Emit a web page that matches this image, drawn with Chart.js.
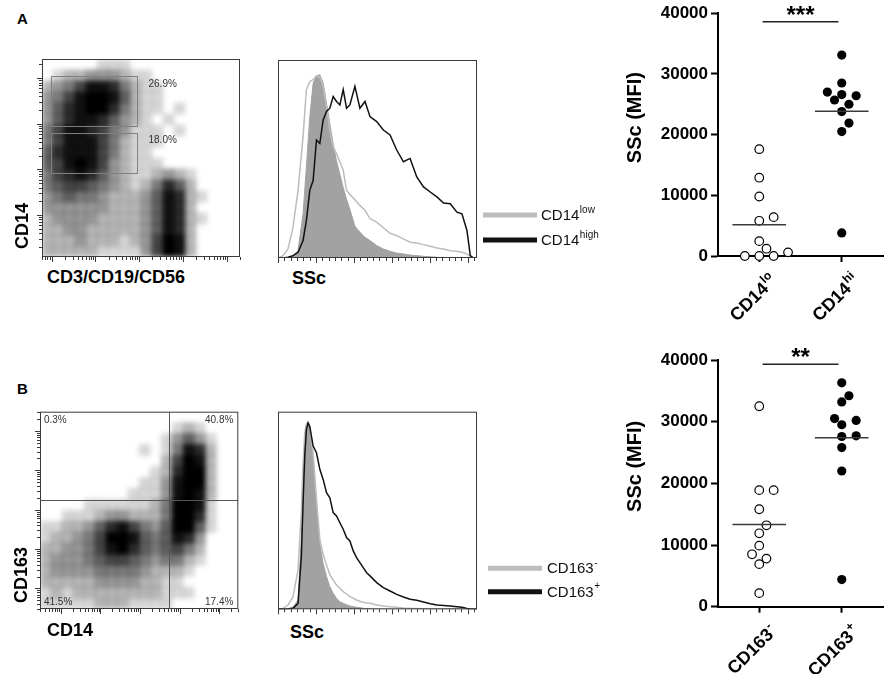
<!DOCTYPE html>
<html lang="en">
<head>
<meta charset="utf-8">
<title>SSc of CD14 / CD163 monocyte subsets</title>
<script src="https://cdn.jsdelivr.net/npm/chart.js@4.4.1/dist/chart.umd.min.js"></script>
<style>
  html, body { margin: 0; padding: 0; background: #fff; }
  body { position: relative; width: 896px; height: 674px; overflow: hidden;
         font-family: "Liberation Sans", Arial, sans-serif; }
  canvas { position: absolute; }
  .t { position: absolute; font-weight: bold; font-size: 18px; line-height: 1; white-space: nowrap; color: #000; }
  .rot { transform: translate(-50%, -50%) rotate(-90deg); }
</style>
</head>
<body>
<div class="t" style="left:17px;top:11px;font-size:15px">A</div>
<div class="t" style="left:17px;top:381px;font-size:15px">B</div>

<canvas id="dotA" width="220" height="215" style="left:30px;top:50px"></canvas>
<div class="t rot" style="left:22px;top:226px">CD14</div>
<div class="t" style="left:47px;top:268px">CD3/CD19/CD56</div>
<canvas id="histA" width="344" height="215" style="left:266px;top:50px"></canvas>
<div class="t" style="left:292px;top:269px">SSc</div>
<canvas id="mfiA" width="296" height="330" style="left:600px;top:0px"></canvas>

<canvas id="dotB" width="222" height="215" style="left:28px;top:402px"></canvas>
<div class="t rot" style="left:21px;top:575px">CD163</div>
<div class="t" style="left:47px;top:621px">CD14</div>
<canvas id="histB" width="344" height="215" style="left:266px;top:402px"></canvas>
<div class="t" style="left:290px;top:623px">SSc</div>
<canvas id="mfiB" width="296" height="334" style="left:600px;top:340px"></canvas>

<script>
// ---- values ----

// dot plots: event density on an 18 x 18 grid (0 = empty .. 9 = saturated), top row first
const dotGridA = [
  "000001110000000000",
  "012233321100000000",
  "234688742110000000",
  "346899852110000000",
  "357899742110100000",
  "357887532101000000",
  "468876431110100000",
  "468886421110000000",
  "578886421100000000",
  "568986321110000000",
  "467875321123210000",
  "456654321247520000",
  "345443222358721000",
  "333333222358720000",
  "233332222358721000",
  "223322222358720000",
  "222322212369820000",
  "222221111369820000"
];
const dotGridB = [
  "000000000000000000",
  "000000000000121000",
  "000000000001353100",
  "000000000101487200",
  "000000000002698200",
  "000000000012799200",
  "000000000113899200",
  "000000001113898200",
  "000011111124998100",
  "001112332224997100",
  "112235786435995100",
  "122346998545873000",
  "223346897545642000",
  "233345665434421000",
  "233334444322210000",
  "222223333221100000",
  "121222222221110000",
  "111112221111000000"
];

// histograms: SSc channel (x1000) and % of mode
const sscA = [0, 6.6, 13.2, 19.8, 26.4, 33.0, 37.4, 41.9, 46.3, 50.7, 55.1, 59.5, 63.9, 68.3,
  72.7, 77.1, 81.5, 85.9, 90.3, 94.7, 101.3, 107.9, 114.6, 121.2, 130.0, 138.8, 147.6, 156.4,
  165.2, 174.0, 182.8, 191.7, 200.5, 209.3, 218.1, 226.9, 235.7, 242.3, 248.9, 253.3, 257.7, 262.1];
const filledA = [0, 0, 0.4, 1.3, 4.0, 24.1, 49.7, 77.1, 95.4, 99.1, 100, 95.4, 84.4, 73.1,
  62.2, 53.0, 45.7, 38.4, 32.0, 26.5, 17.4, 14.1, 11.3, 9.5, 6.8, 4.9, 3.7, 2.7,
  2.2, 1.6, 1.3, 0.9, 0.7, 0.4, 0.2, 0, 0, 0, 0, 0, 0, 0];
const cd14lowA = [0, 1.3, 4.9, 16.8, 36.9, 66.2, 91.8, 96.3, 97.3, 99.5, 98.7, 93.6, 82.6, 69.8,
  60.7, 57.0, 52.5, 47.9, 36.9, 34.7, 31.8, 28.7, 26.0, 21.4, 19.6, 16.5, 13.5, 12.2,
  10.4, 8.6, 8.2, 7.3, 6.4, 5.5, 4.9, 4.0, 3.7, 3.1, 2.2, 0.7, 0, 0];
const cd14highA = [0, 0, 0.4, 1.3, 3.1, 9.5, 20.5, 36.9, 42.4, 64.4, 62.5, 75.3, 79.9, 81.7,
  88.1, 85.4, 83.5, 91.8, 81.7, 83.5, 93.6, 81.7, 85.4, 77.1, 74.4, 69.8, 67.1, 58.9,
  52.5, 54.3, 44.2, 38.8, 36.0, 33.3, 30.0, 29.6, 25.0, 24.1, 15.0, 1.3, 0, 0];

const sscB = [0, 6.6, 13.2, 19.8, 26.4, 30.8, 33.0, 35.2, 37.4, 39.7, 41.9, 46.3, 50.7, 55.1,
  59.5, 63.9, 68.3, 72.7, 77.1, 81.5, 85.9, 90.3, 94.7, 99.1, 103.5, 107.9, 112.3, 116.8,
  121.2, 130.0, 138.8, 147.6, 156.4, 165.2, 174.0, 182.8, 191.7, 200.5, 209.3, 218.1,
  226.9, 235.7, 242.3, 248.9, 253.3, 257.7, 262.1];
const filledB = [0, 0, 0.4, 1.1, 5.0, 38.9, 65.7, 88.9, 98.8, 99.6, 96.8, 81.4, 56.4, 35.0,
  24.6, 17.5, 12.1, 8.6, 5.9, 4.1, 3.2, 2.5, 1.8, 1.4, 1.1, 0.9, 0.5, 0.4,
  0.2, 0, 0, 0, 0, 0, 0, 0, 0, 0, 0, 0, 0, 0, 0, 0, 0, 0, 0];
const cd163negB = [0, 0.5, 2.3, 6.8, 21.1, 53.2, 78.2, 94.3, 99.6, 100, 97.9, 84.0, 58.9, 37.5,
  29.5, 23.8, 18.6, 15.7, 13.0, 11.3, 9.5, 8.2, 6.8, 5.9, 5.0, 4.3, 3.8, 3.4,
  3.2, 2.3, 1.8, 1.4, 1.1, 0.7, 0.5, 0.4, 0.3, 0.2, 0.1, 0, 0, 0, 0, 0, 0, 0, 0];
const cd163posB = [0, 0, 0.2, 0.5, 3.2, 28.6, 56.8, 81.8, 96.4, 100, 97.9, 87.5, 83.9, 75.0,
  69.6, 62.5, 59.8, 51.8, 50.0, 46.4, 42.9, 38.4, 36.6, 31.3, 27.7, 25.0, 22.3, 19.6,
  17.9, 14.3, 11.6, 9.8, 8.0, 6.6, 5.4, 4.8, 3.9, 3.0, 2.3, 2.1, 1.8, 1.4, 1.1, 0.5, 0.2, 0, 0];

// dot plots on the right: SSc MFI per donor
const subsetsA = ['CD14', 'CD14'];
const subsetSupA = ['lo', 'hi'];
const mfiCd14lo = [17600, 12900, 9800, 6400, 5800, 2450, 1200, 600, 0, 0, 0];
const mfiCd14hi = [33100, 28500, 27000, 26600, 26400, 25700, 25000, 23800, 21900, 20500, 3800];
const subsetsB = ['CD163', 'CD163'];
const subsetSupB = ['-', '+'];
const mfiCd163neg = [32500, 18900, 18900, 15800, 13200, 11900, 9900, 8500, 7800, 6900, 2200];
const mfiCd163pos = [36300, 34200, 33200, 30500, 30200, 29500, 27700, 27600, 25800, 22000, 4400];
const mfiTicks = [0, 10000, 20000, 30000, 40000];

// ---- drawing ----
Chart.defaults.font.family = '"Liberation Sans", Arial, Helvetica, sans-serif';
Chart.defaults.color = '#000';
const FONT = '"Liberation Sans", Arial, sans-serif';

function logTicks(min, max) {
  const out = [];
  for (let k = Math.floor(Math.log10(min)); k <= Math.ceil(Math.log10(max)); k++) {
    for (let m = 1; m <= 9; m++) {
      const v = m * Math.pow(10, k);
      if (v >= min && v <= max) out.push({ v, len: m === 1 ? 5 : 3 });
    }
  }
  return out;
}

function gridPoints(rows) {
  const pts = [];
  rows.forEach((row, r) => [...row].forEach((ch, c) => {
    const d = +ch;
    if (d > 0) pts.push({ x: c + 0.5, y: rows.length - r - 0.5, d });
  }));
  return pts;
}

// frame, outside tick marks, gates and percentages
function frameDecor(spec) {
  return {
    id: 'frameDecor',
    afterDraw(chart) {
      const { ctx, chartArea: a } = chart;
      ctx.save();
      ctx.strokeStyle = '#3a3a3a';
      ctx.lineWidth = 1;
      ctx.strokeRect(a.left + 0.5, a.top + 0.5, a.width - 1, a.height - 1);
      ctx.beginPath();
      (spec.xTicks || []).forEach(t => {
        const px = Math.round(chart.scales[spec.xScale].getPixelForValue(t.v)) + 0.5;
        ctx.moveTo(px, a.bottom); ctx.lineTo(px, a.bottom + t.len);
      });
      (spec.yTicks || []).forEach(t => {
        const py = Math.round(chart.scales[spec.yScale].getPixelForValue(t.v)) + 0.5;
        ctx.moveTo(a.left, py); ctx.lineTo(a.left - t.len, py);
      });
      ctx.stroke();

      const xs = chart.scales.x, ys = chart.scales.y;
      ctx.strokeStyle = '#808080';
      (spec.boxes || []).forEach(([x0, x1, y0, y1]) => {
        const l = Math.round(xs.getPixelForValue(x0)) + 0.5, r = Math.round(xs.getPixelForValue(x1)) + 0.5;
        const t = Math.round(ys.getPixelForValue(y1)) + 0.5, b = Math.round(ys.getPixelForValue(y0)) + 0.5;
        ctx.strokeRect(l, t, r - l, b - t);
      });
      ctx.strokeStyle = '#555';
      ctx.beginPath();
      (spec.vLines || []).forEach(v => {
        const px = Math.round(xs.getPixelForValue(v)) + 0.5;
        ctx.moveTo(px, a.top); ctx.lineTo(px, a.bottom);
      });
      (spec.hLines || []).forEach(v => {
        const py = Math.round(ys.getPixelForValue(v)) + 0.5;
        ctx.moveTo(a.left, py); ctx.lineTo(a.right, py);
      });
      ctx.stroke();

      ctx.font = '10px ' + FONT;
      ctx.fillStyle = '#333';
      ctx.textBaseline = 'middle';
      (spec.labels || []).forEach(l => {
        ctx.textAlign = l.align || 'left';
        ctx.fillText(l.text, xs.getPixelForValue(l.x), ys.getPixelForValue(l.y));
      });
      ctx.restore();
    }
  };
}

// soften the drawn density cells as a whole so they read as a cloud of events
const softCells = {
  id: 'softCells',
  afterDatasetsDraw(chart) {
    const { ctx, canvas, chartArea: a } = chart;
    const r = chart.currentDevicePixelRatio || 1;
    const copy = document.createElement('canvas');
    copy.width = canvas.width;
    copy.height = canvas.height;
    copy.getContext('2d').drawImage(canvas, 0, 0);
    ctx.save();
    ctx.beginPath();
    ctx.rect(a.left, a.top, a.width, a.height);
    ctx.clip();
    ctx.clearRect(a.left, a.top, a.width, a.height);
    ctx.filter = 'blur(2.5px)';
    ctx.drawImage(copy, 0, 0, canvas.width, canvas.height, 0, 0, canvas.width / r, canvas.height / r);
    ctx.restore();
  }
};

function dotPlot(id, grid, pad, logRange, spec) {
  const n = grid.length;
  const cellR = c => {
    const a = c.chart.chartArea;
    return a ? (a.width / n + 0.7) / Math.SQRT2 : 4;
  };
  return new Chart(document.getElementById(id), {
    type: 'scatter',
    data: {
      datasets: [{
        data: gridPoints(grid),
        pointStyle: 'rect',
        pointRadius: cellR,
        pointBorderWidth: 0,
        pointBackgroundColor: c => c.raw
          ? 'rgba(0,0,0,' + Math.min(1, Math.pow(c.raw.d / 9, 0.85) * 1.03).toFixed(3) + ')'
          : '#000'
      }]
    },
    options: {
      responsive: false,
      animation: false,
      events: [],
      layout: { padding: pad },
      plugins: { legend: { display: false }, tooltip: { enabled: false } },
      scales: {
        x: { type: 'linear', min: 0, max: n, display: false },
        y: { type: 'linear', min: 0, max: n, display: false },
        xLog: { type: 'logarithmic', axis: 'x', position: 'bottom', min: logRange.x[0], max: logRange.x[1], display: false },
        yLog: { type: 'logarithmic', axis: 'y', position: 'left', min: logRange.y[0], max: logRange.y[1], display: false }
      }
    },
    plugins: [softCells, frameDecor(Object.assign({
      xScale: 'xLog', yScale: 'yLog',
      xTicks: logTicks(logRange.x[0], logRange.x[1]),
      yTicks: logTicks(logRange.y[0], logRange.y[1])
    }, spec))]
  });
}

function histLegend(items) {
  return {
    id: 'histLegend',
    afterDraw(chart) {
      const { ctx, chartArea: a } = chart;
      ctx.save();
      items.forEach(it => {
        const y = a.bottom - it.dy;
        ctx.strokeStyle = chart.data.datasets[it.ds].borderColor;
        ctx.lineWidth = 5;
        ctx.beginPath();
        ctx.moveTo(a.right + it.x0, y); ctx.lineTo(a.right + it.x1, y);
        ctx.stroke();
        ctx.fillStyle = '#111';
        ctx.textBaseline = 'middle';
        ctx.textAlign = 'left';
        ctx.font = '15px ' + FONT;
        ctx.fillText(it.base, a.right + it.tx, y + 1);
        const w = ctx.measureText(it.base).width;
        ctx.font = '10px ' + FONT;
        ctx.fillText(it.sup, a.right + it.tx + w + 0.5, y - 5);
      });
      ctx.restore();
    }
  };
}

function histogram(id, ssc, fill, light, dark, pad, yMax, legend) {
  const pts = arr => arr.map((v, i) => ({ x: ssc[i], y: v }));
  const xTicks = [];
  for (let i = 0; i * 50 / 6 <= 262.144; i++) xTicks.push({ v: i * 50 / 6, len: i % 6 === 0 ? 5 : 3 });
  return new Chart(document.getElementById(id), {
    type: 'line',
    data: {
      datasets: [
        { data: pts(fill), borderColor: '#a2a2a2', backgroundColor: '#a2a2a2', fill: 'origin', borderWidth: 1, pointRadius: 0, order: 3 },
        { data: pts(light), borderColor: '#bdbdbd', borderWidth: 1.5, fill: false, pointRadius: 0, order: 2 },
        { data: pts(dark), borderColor: '#111', borderWidth: 1.5, fill: false, pointRadius: 0, order: 1 }
      ]
    },
    options: {
      responsive: false,
      animation: false,
      events: [],
      layout: { padding: pad },
      plugins: { legend: { display: false }, tooltip: { enabled: false } },
      scales: {
        x: { type: 'linear', min: 0, max: 262.144, display: false },
        y: { type: 'linear', min: 0, max: yMax, display: false }
      }
    },
    plugins: [frameDecor({ xScale: 'x', xTicks }), histLegend(legend)]
  });
}

// non-overlapping horizontal offsets (px) for points of one column
function swarmOffsets(yPx, diam) {
  const order = yPx.map((v, i) => i).sort((a, b) => yPx[b] - yPx[a]);
  const placed = [];
  const offs = yPx.map(() => 0);
  const step = diam * 0.8;
  order.forEach(i => {
    for (let k = 0; k < 40; k++) {
      const o = k === 0 ? 0 : (k % 2 ? 1 : -1) * Math.ceil(k / 2) * step;
      if (placed.every(p => Math.hypot(p.x - o, p.y - yPx[i]) >= diam)) {
        offs[i] = o;
        placed.push({ x: o, y: yPx[i] });
        break;
      }
    }
  });
  return offs;
}

function mean(arr) { return arr.reduce((s, v) => s + v, 0) / arr.length; }

function scatterDecor(o) {
  return {
    id: 'scatterDecor',
    afterDraw(chart) {
      const { ctx, chartArea: a } = chart;
      const xs = chart.scales.x, ys = chart.scales.y;
      ctx.save();
      ctx.fillStyle = '#000';
      // y title
      ctx.save();
      ctx.translate(a.left - 83, (a.top + a.bottom) / 2 - 17);
      ctx.rotate(-Math.PI / 2);
      ctx.textAlign = 'center';
      ctx.textBaseline = 'middle';
      ctx.font = 'bold 20px ' + FONT;
      ctx.fillText('SSc (MFI)', 0, 0);
      ctx.restore();
      // significance stars
      ctx.textAlign = 'center';
      ctx.textBaseline = 'alphabetic';
      ctx.font = 'bold 24px ' + FONT;
      ctx.fillText(o.stars, xs.getPixelForValue(1.5), ys.getPixelForValue(o.sigY) + 1);
      // rotated category labels with superscripts
      o.cats.forEach((base, i) => {
        const px = xs.getPixelForValue(i + 1);
        ctx.save();
        ctx.translate(px + 15, a.bottom + 22);
        ctx.rotate(-Math.PI / 4);
        ctx.textAlign = 'left';
        ctx.textBaseline = 'middle';
        ctx.font = 'bold 18px ' + FONT;
        const w1 = ctx.measureText(base).width;
        ctx.font = 'bold 12px ' + FONT;
        const w2 = ctx.measureText(o.sups[i]).width;
        ctx.font = 'bold 18px ' + FONT;
        ctx.fillText(base, -(w1 + w2 + 1), 0);
        ctx.font = 'bold 12px ' + FONT;
        ctx.fillText(o.sups[i], -w2, -6);
        ctx.restore();
      });
      ctx.restore();
    }
  };
}

function mfiPlot(id, lo, hi, cats, sups, stars, sigY, pad, xHeight) {
  const meanLine = (vals, c) => ({
    data: [{ x: c - 0.325, y: mean(vals) }, { x: c + 0.325, y: mean(vals) }],
    showLine: true, borderColor: '#3a3a3a', borderWidth: 1.5, pointRadius: 0, order: 1, clip: false
  });
  const chart = new Chart(document.getElementById(id), {
    type: 'scatter',
    data: {
      datasets: [
        { cat: 1, values: lo, data: lo.map(v => ({ x: 1, y: v })), pointRadius: 4.3, pointBorderWidth: 1.2,
          pointBackgroundColor: '#fff', pointBorderColor: '#000', order: 2, clip: false },
        { cat: 2, values: hi, data: hi.map(v => ({ x: 2, y: v })), pointRadius: 4.6, pointBorderWidth: 0,
          pointBackgroundColor: '#000', pointBorderColor: '#000', order: 2, clip: false },
        meanLine(lo, 1),
        meanLine(hi, 2),
        { data: [{ x: 1.04, y: sigY }, { x: 1.96, y: sigY }], showLine: true, borderColor: '#222',
          borderWidth: 1.5, pointRadius: 0, order: 1, clip: false }
      ]
    },
    options: {
      responsive: false,
      animation: false,
      events: [],
      layout: { padding: pad },
      plugins: { legend: { display: false }, tooltip: { enabled: false } },
      scales: {
        x: {
          type: 'linear', min: 0.5, max: 2.5,
          afterBuildTicks: s => { s.ticks = [{ value: 1 }, { value: 2 }]; },
          afterFit: s => { s.height = xHeight; },
          ticks: { display: false },
          grid: { drawOnChartArea: false, tickLength: 6, tickWidth: 2, tickColor: '#000' },
          border: { color: '#000', width: 2 }
        },
        y: {
          type: 'linear', min: 0, max: 40000,
          afterBuildTicks: s => { s.ticks = mfiTicks.map(v => ({ value: v })); },
          afterFit: s => { s.width = 118; },
          ticks: { callback: v => String(v), font: { size: 17, weight: 'bold' }, color: '#000', padding: 3 },
          grid: { drawOnChartArea: false, tickLength: 7, tickWidth: 2, tickColor: '#000' },
          border: { color: '#000', width: 2 }
        }
      }
    },
    plugins: [scatterDecor({ cats, sups, stars, sigY })]
  });
  // spread points horizontally so they do not overlap
  const xs = chart.scales.x, ys = chart.scales.y;
  const unit = xs.getPixelForValue(2) - xs.getPixelForValue(1);
  chart.data.datasets.forEach(ds => {
    if (!ds.values) return;
    const offs = swarmOffsets(ds.values.map(v => ys.getPixelForValue(v)), 9);
    ds.data = ds.values.map((v, i) => ({ x: ds.cat + offs[i] / unit, y: v }));
  });
  chart.update('none');
  return chart;
}

// panel A
dotPlot('dotA', dotGridA, { left: 12, top: 9, right: 10, bottom: 8 },
  { x: [0.6, 20000], y: [1.2, 26300] },
  {
    boxes: [[0.85, 8.62, 11.92, 16.42], [0.85, 8.62, 7.66, 11.25]],
    labels: [{ text: '26.9%', x: 9.68, y: 15.66 }, { text: '18.0%', x: 9.68, y: 10.64 }]
  });
histogram('histA', sscA, filledA, cd14lowA, cd14highA,
  { left: 12, top: 10, right: 133, bottom: 7 }, 108,
  [{ ds: 1, base: 'CD14', sup: 'low', dy: 43, x0: 6, x1: 60, tx: 64 },
   { ds: 2, base: 'CD14', sup: 'high', dy: 18, x0: 6, x1: 60, tx: 64 }]);
mfiPlot('mfiA', mfiCd14lo, mfiCd14hi, subsetsA, subsetSupA, '***', 38600,
  { left: 0, top: 11, right: 13, bottom: 0 }, 74);

// panel B
dotPlot('dotB', dotGridB, { left: 12, top: 9.7, right: 11.7, bottom: 8 },
  { x: [0.3, 30000], y: [0.3, 30900] },
  {
    vLines: [11.74], hLines: [9.94],
    labels: [
      { text: '0.3%', x: 0.36, y: 17.24 }, { text: '40.8%', x: 17.55, y: 17.24, align: 'right' },
      { text: '41.5%', x: 0.36, y: 0.61 }, { text: '17.4%', x: 17.55, y: 0.61, align: 'right' }
    ]
  });
histogram('histB', sscB, filledB, cd163negB, cd163posB,
  { left: 12, top: 9.7, right: 133, bottom: 7.7 }, 105.9,
  [{ ds: 1, base: 'CD163', sup: '-', dy: 41, x0: 11, x1: 65, tx: 70 },
   { ds: 2, base: 'CD163', sup: '+', dy: 17.6, x0: 11, x1: 65, tx: 70 }]);
mfiPlot('mfiB', mfiCd163neg, mfiCd163pos, subsetsB, subsetSupB, '**', 39300,
  { left: 0, top: 20, right: 13, bottom: 0 }, 67.3);
</script>
</body>
</html>
